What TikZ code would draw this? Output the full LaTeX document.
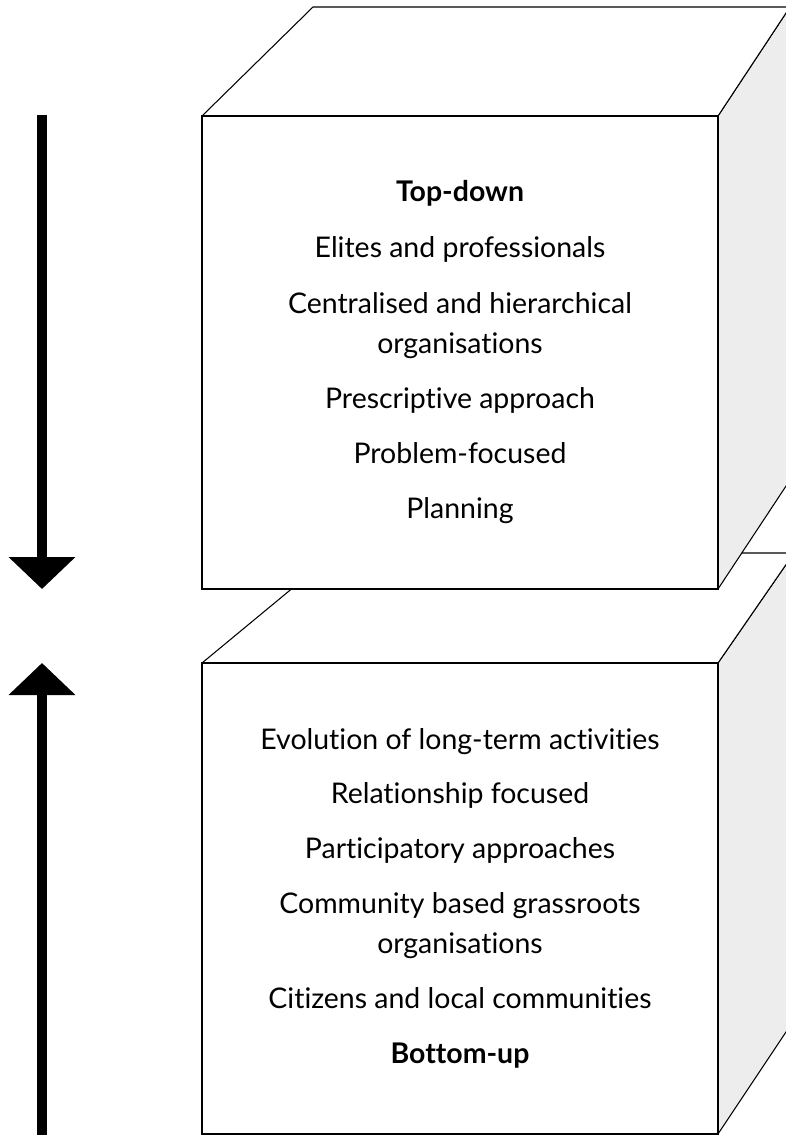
\documentclass[tikz,border=0pt]{standalone}
\usepackage{fontspec}
\setmainfont{Lato}[Ligatures={NoCommon,NoRequired}]
\usepackage{xcolor}
\usepackage{tikz}
\usetikzlibrary{arrows.meta}

\definecolor{SideGrey}{HTML}{EDEDED}
\newcommand{\itemfont}{\fontsize{16.2}{19}\selectfont}

\begin{document}
\begin{tikzpicture}[x=0.02cm,y=-0.02cm]
        \tikzset{
            front/.style={draw,fill=white,line width=0.9pt},
            lid/.style={draw,fill=white,line width=0.6pt,line join=round},
            side/.style={draw,fill=SideGrey,line width=0.6pt,line join=round},
            itemtext/.style={anchor=base,font=\itemfont},
            headtext/.style={itemtext,font=\itemfont\bfseries},
            bigarrow/.style={line width=0.22cm,-{Triangle[width=1.3cm,length=0.64cm]}},
        }
        \useasboundingbox (0,0) rectangle (786,1135);
        \clip (0,0) rectangle (786,1135);

        % lower box first, the upper one hides part of its lid
        \draw[side] (718,663) -- (794,553) -- (794,1020) -- (718,1134) -- cycle;
        \draw[lid] (202,663) -- (335,553) -- (794,553) -- (718,663) -- cycle;
        \draw[front] (202,663) rectangle (718,1134);

        \draw[side] (718,116) -- (790,7) -- (790,480) -- (718,589) -- cycle;
        \draw[lid] (202,116) -- (313,7) -- (790,7) -- (718,116) -- cycle;
        \draw[front] (202,116) rectangle (718,589);

        % texts
        \node[headtext] (top) at (460,202) {Top-down};
        \foreach \y/\txt [count=\i] in {257/Elites and professionals,
                313/Centralised and hierarchical, 353/organisations,
                408/Prescriptive approach, 463/Problem-focused, 518/Planning}
            \node[itemtext] (up\i) at (460,\y) {\txt};

        \foreach \y/\txt [count=\i] in {749/Evolution of long-term activities,
                803/Relationship focused, 858/Participatory approaches,
                913/Community based grassroots, 953/organisations,
                1008/Citizens and local communities}
            \node[itemtext] (low\i) at (460,\y) {\txt};
        \node[headtext] (bottom) at (460,1063) {Bottom-up};

        % arrows
        \coordinate (downstart) at (42,115);
        \coordinate (downend) at (42,589);
        \coordinate (upstart) at (42,1135);
        \coordinate (upend) at (42,663);
        \draw[bigarrow] (downstart) -- (downend);
        \draw[bigarrow] (upstart) -- (upend);
    \end{tikzpicture}
\end{document}
